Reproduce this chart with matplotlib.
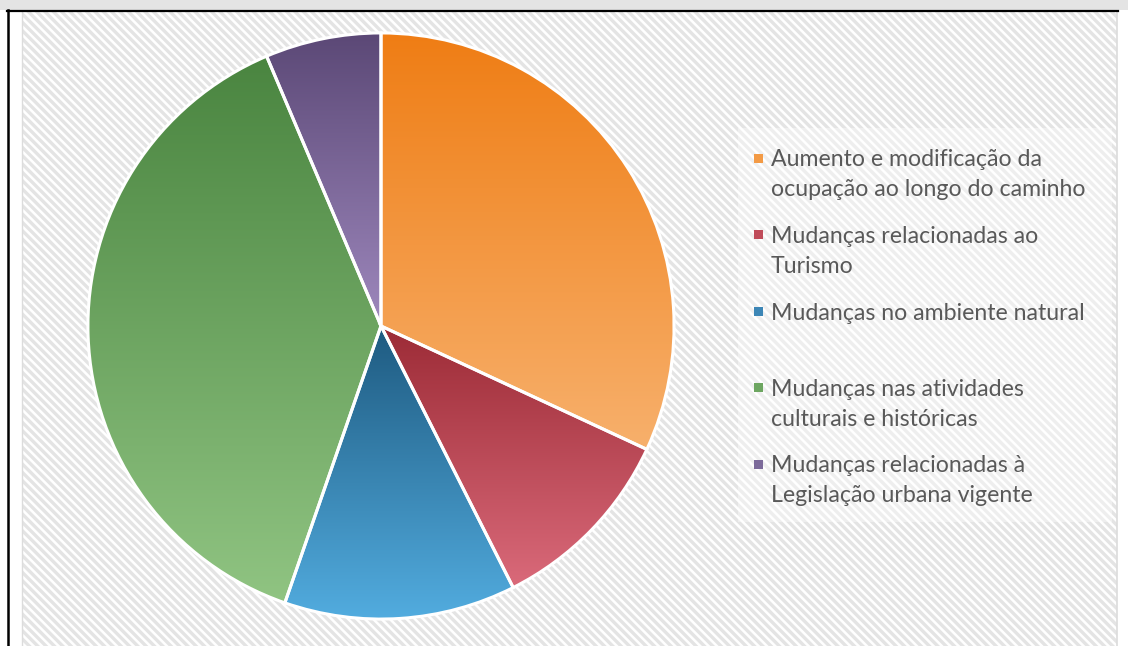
import numpy as np
import matplotlib
matplotlib.use("Agg")
import matplotlib.pyplot as plt
from matplotlib.patches import Rectangle
from matplotlib.colors import LinearSegmentedColormap

# ── data ──
labels = [
    "Aumento e modificação da\nocupação ao longo do caminho",
    "Mudanças relacionadas ao\nTurismo",
    "Mudanças no ambiente natural",
    "Mudanças nas atividades\nculturais e históricas",
    "Mudanças relacionadas à\nLegislação urbana vigente",
]
values = [15, 5, 6, 18, 3]
# (top colour, bottom colour) of each slice's vertical gradient
top_colors = ["#ef7d14", "#9c2b36", "#1e5a80", "#4a8540", "#5b4876"]
bot_colors = ["#f7b06c", "#da6a7a", "#52acdf", "#90c482", "#9e88bd"]
mid_colors = ["#f39a45", "#c04c5a", "#3c86b6", "#6da661", "#7c6a9a"]

W, H = 1128, 646
plt.rcParams["hatch.linewidth"] = 2.4
fig = plt.figure(figsize=(W / 100, H / 100), dpi=100)

# background / frame in pixel coordinates
bg = fig.add_axes([0, 0, 1, 1])
bg.set_xlim(0, W); bg.set_ylim(H, 0); bg.axis("off")
bg.add_patch(Rectangle((0, 0), W, 10, facecolor="#e4e4e4", lw=0))
bg.add_patch(Rectangle((22, 12), 1095, H, facecolor="white",
                       edgecolor="#e4e4e4", hatch="\\\\\\\\", lw=0))
bg.plot([22, 22], [12, H], color="#dcdcdc", lw=1)
bg.plot([1117, 1117], [12, H], color="#dcdcdc", lw=1.2)
bg.plot([7, 1118], [10.5, 10.5], color="black", lw=1.6)
bg.plot([8, 8], [10, H], color="black", lw=1.8)
# legend backdrop
bg.add_patch(Rectangle((738, 128), 374, 394, facecolor="white", alpha=0.4, lw=0))

# ── pie ──
cx, cy, r = 381, 326, 296
ax = fig.add_axes([(cx - r) / W, 1 - (cy + r) / H, 2 * r / W, 2 * r / H])
ax.set_facecolor("none")
wedges, _ = ax.pie(values, startangle=90, counterclock=False, radius=1,
                   wedgeprops=dict(edgecolor="white", linewidth=2.2))
for w, c0, c1 in zip(wedges, top_colors, bot_colors):
    bb = w.get_path().get_extents(w.get_patch_transform())
    cmap = LinearSegmentedColormap.from_list("g", [c0, c1])
    grad = np.linspace(0, 1, 256).reshape(-1, 1)
    im = ax.imshow(grad, cmap=cmap, aspect="auto", origin="upper",
                   extent=[bb.x0, bb.x1, bb.y0, bb.y1], zorder=1)
    im.set_clip_path(w)
    w.set_facecolor("none")
    w.set_zorder(3)
ax.set_xlim(-1.01, 1.01); ax.set_ylim(-1.01, 1.01)
ax.set_aspect("equal"); ax.axis("off")

# ── legend (one slot per entry, as in the source) ──
for i, (lab, c) in enumerate(zip(labels, mid_colors)):
    y = 158 + i * 76.5
    bg.add_patch(Rectangle((754, y - 4.5), 9, 9, facecolor=c, lw=0))
    for j, line in enumerate(lab.split("\n")):
        bg.text(771, y + j * 30, line, fontsize=16.7, family="Lato",
                color="#595959", va="center_baseline", ha="left")

fig.savefig("out.png", dpi=100)
